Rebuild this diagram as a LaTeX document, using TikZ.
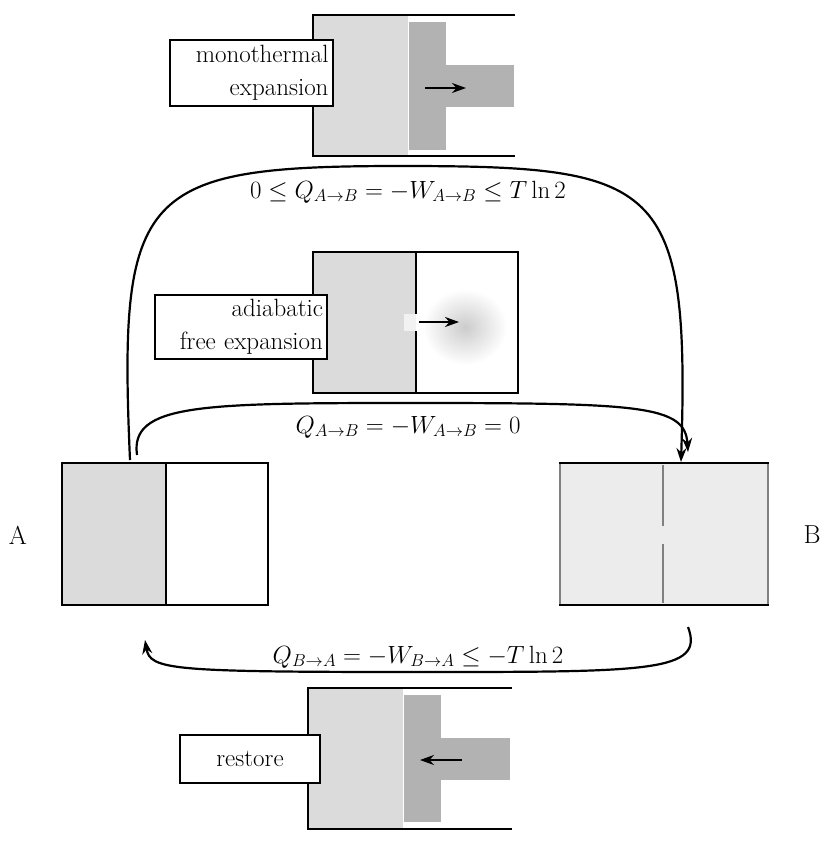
\documentclass[tikz,border=0pt]{standalone}
\usetikzlibrary{arrows.meta}
\begin{document}
\begin{tikzpicture}[x=1pt,y=-1pt,line width=2.2pt,
  lbl/.style={draw,line width=2pt,fill=white,align=right,font=\fontsize{25}{33}\selectfont,inner sep=4pt},
  mth/.style={font=\fontsize{26}{30}\selectfont},
  conn/.style={line width=2.2pt,-{Stealth[length=14pt,width=10pt]}},
  arr/.style={line width=2.2pt,-{Stealth[length=14pt,width=10pt]}}]
\useasboundingbox (0,0) rectangle (830,844);
% top piston
\fill[gray!28] (313,15) rectangle (408,156);
\fill[gray!60] (409,22) rectangle (446,150);
\fill[gray!60] (446,65) rectangle (514,107);
\draw (515,15) -- (313,15) -- (313,156) -- (515,156);
\draw[arr] (425,88) -- (466,88);
\node[lbl,text width=155pt,minimum height=66pt] (mono) at (251,73) {monothermal\\expansion};
% middle box
\fill[gray!28] (313,252) rectangle (416,393);
\shade[inner color=gray!40,outer color=white] (465,327) ellipse (42 and 38);
\fill[gray!10] (404,314) rectangle (416,331);
\draw (313,252) rectangle (518,393);
\draw (416,252) -- (416,314) (416,331) -- (416,393);
\draw[arr] (419,322) -- (459,322);
\node[lbl,text width=164pt,minimum height=62pt] (adia) at (241,327) {adiabatic\\free expansion};
% box A
\fill[gray!28] (62,463) rectangle (166,605);
\draw (62,463) rectangle (268,605);
\draw (166,463) -- (166,605);
\node[mth] (A) at (18,535) {A};
% box B
\fill[gray!15] (560,463) rectangle (768,605);
\draw[gray] (560,463) -- (560,605) (768,463) -- (768,605);
\draw (559,463) -- (769,463) (559,605) -- (769,605);
\draw[gray] (663,465) -- (663,526) (663,544) -- (663,603);
\node[mth] (B) at (812,535) {B};
% connectors
\coordinate (a1) at (130,460);
\coordinate (b1) at (681,462);
\coordinate (a2) at (137,455);
\coordinate (b2) at (688,452);
\coordinate (b3) at (688,627);
\coordinate (a3) at (145,640);
\draw[conn] (a1) .. controls (118,190) and (140,166) .. (400,166) .. controls (660,166) and (690,180) .. (b1);
\node[mth] (l1) at (408,192) {$0\le Q_{A\to B}=-W_{A\to B}\le T\ln 2$};
\draw[conn] (a2) .. controls (130,404) and (200,403) .. (410,403) .. controls (640,403) and (685,405) .. (b2);
\node[mth] (l2) at (408,427) {$Q_{A\to B}=-W_{A\to B}=0$};
\draw[conn] (b3) .. controls (705,672) and (650,672) .. (420,672) .. controls (170,672) and (150,670) .. (a3);
\node[mth] (l3) at (418,657) {$Q_{B\to A}=-W_{B\to A}\le -T\ln 2$};
% bottom piston
\fill[gray!28] (308,688) rectangle (403,829);
\fill[gray!60] (404,695) rectangle (441,822);
\fill[gray!60] (441,738) rectangle (510,780);
\draw (512,688) -- (308,688) -- (308,829) -- (512,829);
\draw[arr] (462,760) -- (420,760);
\node[lbl,align=center,minimum width=140pt,minimum height=48pt] (rest) at (250,759) {restore};
\end{tikzpicture}
\end{document}
